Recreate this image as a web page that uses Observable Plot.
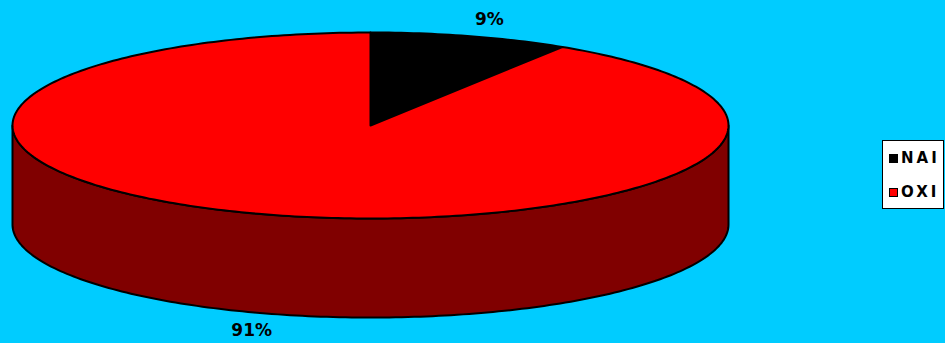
<!DOCTYPE html>
<html>
<head>
<meta charset="utf-8">
<script src="https://cdn.jsdelivr.net/npm/d3@7"></script>
<script src="https://cdn.jsdelivr.net/npm/@observablehq/plot@0.6"></script>
<style>
  html, body { margin: 0; padding: 0; background: #00CCFF; }
  #wrap { position: relative; width: 945px; height: 343px; overflow: hidden; background: #00CCFF; font-family: "DejaVu Sans", sans-serif; }
  #legend { position: absolute; left: 882px; top: 140px; width: 60px; height: 67px; background: #fff; border: 1px solid #000; }
  .item { position: absolute; left: 6px; height: 16px; display: flex; align-items: center; white-space: nowrap; }
  .sw { width: 7px; height: 7px; border: 1px solid #000; margin-right: 3px; flex: none; }
  .lab { font-weight: bold; font-size: 15px; letter-spacing: 3px; color: #000; line-height: 16px; }
</style>
</head>
<body>
<div id="wrap"></div>
<script>
// ---- data ----
const categories = ["NAI", "OXI"];
const shares = [9, 91];
const sliceColors = ["#000000", "#FF0000"];
const sideColor = "#800000";
const pctLabels = ["9%", "91%"];

// ---- geometry in unit space (x,y in [-1,1], y up) ----
const depth = 1.065;   // thickness of the disc in y units
const total = d3.sum(shares);
const deg = Math.PI / 180;
function pt(theta, r = 1, dz = 0) { return {x: r * Math.sin(theta), y: r * Math.cos(theta) - dz}; }

let acc = 0;
const slices = categories.map((c, i) => {
  const a0 = acc / total * 2 * Math.PI;
  acc += shares[i];
  const a1 = acc / total * 2 * Math.PI;
  return {cat: c, a0, a1, color: sliceColors[i], label: pctLabels[i]};
});

// front side (visible half: from 90deg clockwise to 270deg)
const side = [];
for (let t = 90; t <= 270; t += 1) side.push(pt(t * deg));
for (let t = 270; t >= 90; t -= 1) side.push(pt(t * deg, 1, depth));

// top slices
const tops = slices.map(s => {
  const pts = [{x: 0, y: 0}];
  const n = Math.max(2, Math.ceil((s.a1 - s.a0) / deg));
  for (let k = 0; k <= n; k++) pts.push(pt(s.a0 + (s.a1 - s.a0) * k / n));
  return {s, pts};
});

// labels
const labelData = slices.map(s => {
  const m = (s.a0 + s.a1) / 2;
  const p = pt(m, 1.19, Math.cos(m) < 0 ? depth : 0);
  return {x: p.x, y: p.y, text: s.label};
});

const marks = [
  Plot.line(side, {x: "x", y: "y", fill: sideColor, stroke: "#000", strokeWidth: 2, curve: "linear-closed", strokeLinejoin: "round"}),
  ...tops.map(t => Plot.line(t.pts, {x: "x", y: "y", fill: t.s.color, stroke: "#000", strokeWidth: 2, curve: "linear-closed", strokeLinejoin: "round"})),
  Plot.text(labelData, {x: "x", y: "y", text: "text", fontSize: 17, fontWeight: "bold", fill: "#000"})
];

const chart = Plot.plot({
  width: 945,
  height: 343,
  margin: 0,
  x: {domain: [-1, 1], range: [12, 728], axis: null},
  y: {domain: [-1, 1], range: [218, 32], axis: null},
  style: {background: "transparent", fontFamily: "DejaVu Sans, sans-serif", overflow: "visible"},
  marks
});
const wrap = document.getElementById("wrap");
wrap.appendChild(chart);

// legend
const legend = document.createElement("div");
legend.id = "legend";
categories.forEach((c, i) => {
  const it = document.createElement("div");
  it.className = "item";
  it.style.top = (9 + i * 34) + "px";
  const sw = document.createElement("div");
  sw.className = "sw";
  sw.style.background = sliceColors[i];
  const lb = document.createElement("span");
  lb.className = "lab";
  lb.textContent = c;
  it.appendChild(sw); it.appendChild(lb);
  legend.appendChild(it);
});
wrap.appendChild(legend);
</script>
</body>
</html>
